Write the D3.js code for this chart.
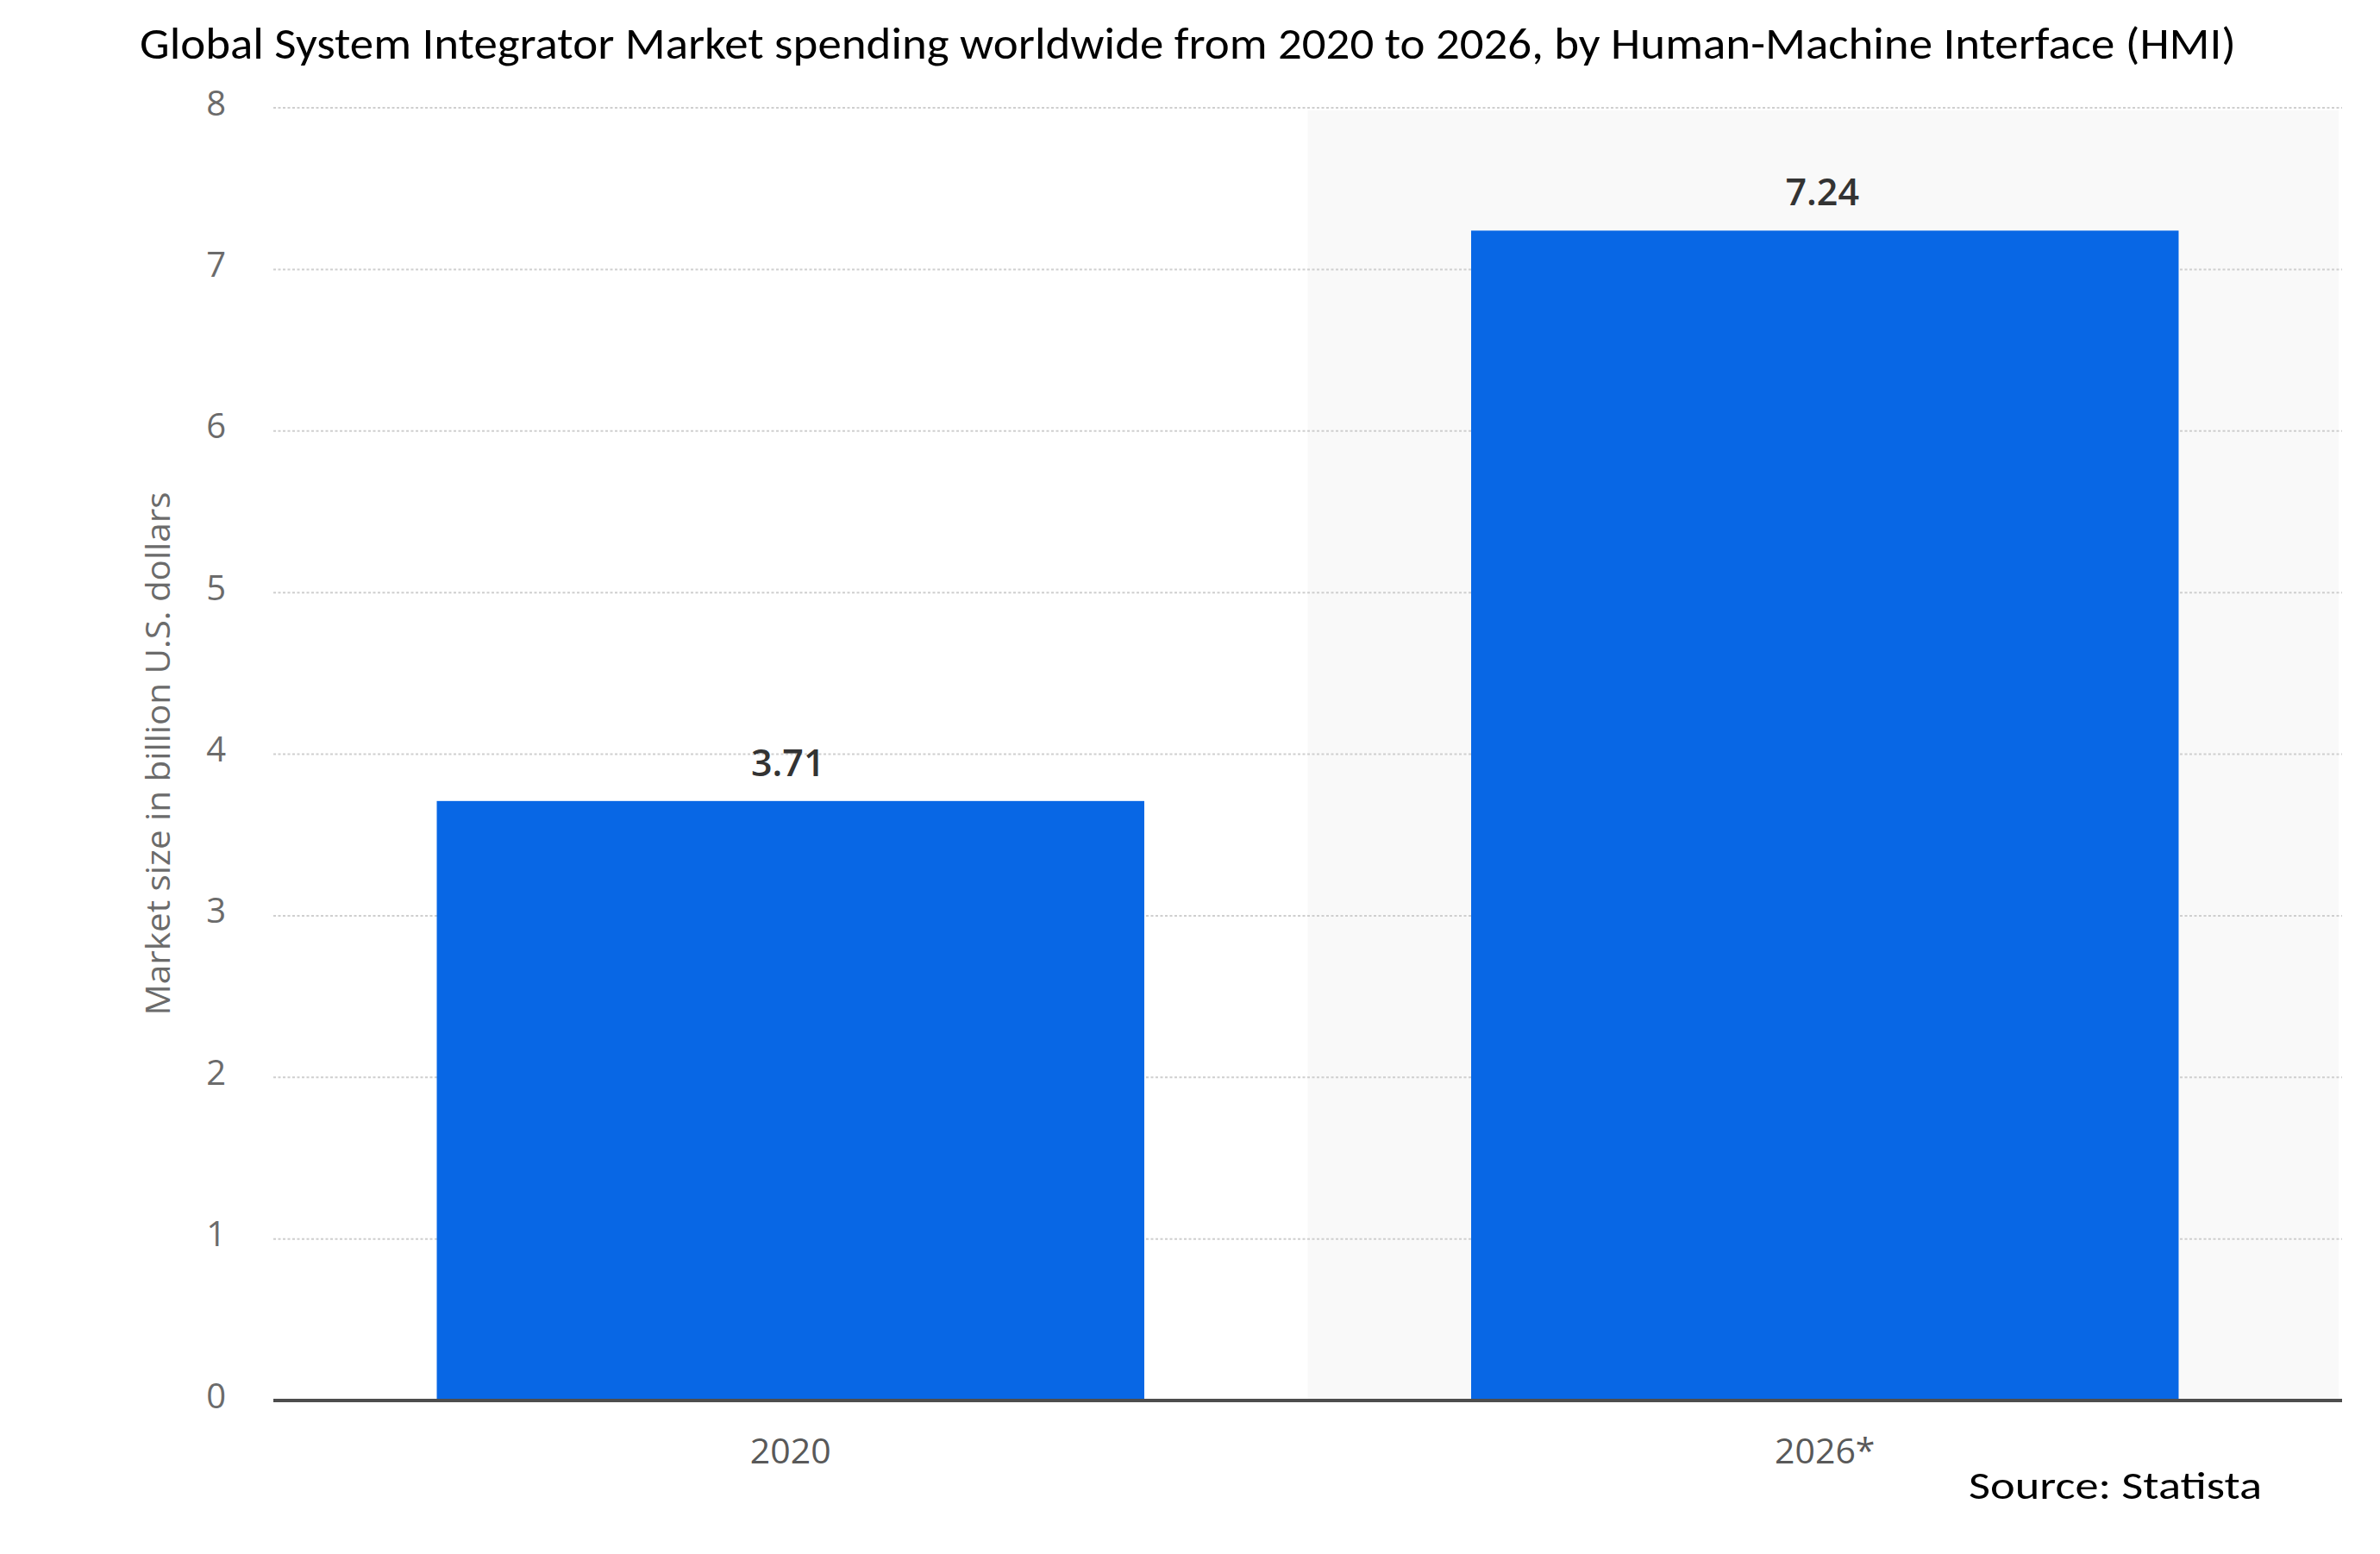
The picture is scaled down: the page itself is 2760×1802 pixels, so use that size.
<!DOCTYPE html>
<html>
<head>
<meta charset="utf-8">
<script src="https://cdn.jsdelivr.net/npm/d3@7"></script>
<style>
  html, body { margin: 0; padding: 0; background: #ffffff; }
  svg { display: block; }
</style>
</head>
<body>
<svg id="chart" width="2760" height="1802"></svg>
<script>
// ---- data ----
const categories = ["2020", "2026*"];
const values = [3.71, 7.24];
const valueLabels = ["3.71", "7.24"];
const yTicks = [0, 1, 2, 3, 4, 5, 6, 7, 8];
const highlighted = ["2026*"];
const titleText = "Global System Integrator Market spending worldwide from 2020 to 2026, by Human-Machine Interface (HMI)";
const yAxisTitle = "Market size in billion U.S. dollars";
const sourceText = "Source: Statista";

// ---- layout ----
const W = 2760, H = 1802;
const plot = { left: 317, right: 2716, top: 125, bottom: 1624 };
const svg = d3.select("#chart");

const x = d3.scaleBand().domain(categories).range([plot.left, plot.right]).padding(0);
const barW = x.bandwidth() * 0.684;
const y = d3.scaleLinear().domain([0, 8]).range([plot.bottom, plot.top]);

// highlighted band (forecast)
svg.append("g").selectAll("rect")
  .data(highlighted)
  .join("rect")
  .attr("x", d => x(d))
  .attr("y", y(8) + 3)
  .attr("width", x.bandwidth() - 4)
  .attr("height", y(0) - y(8) - 3)
  .attr("fill", "#f9f9f9");

// gridlines
svg.append("g").selectAll("line")
  .data(yTicks.filter(t => t > 0))
  .join("line")
  .attr("x1", plot.left).attr("x2", plot.right)
  .attr("y1", d => y(d)).attr("y2", d => y(d))
  .attr("stroke", "#cfcfcf").attr("stroke-width", 2)
  .attr("stroke-dasharray", "3,2.5");

// y axis tick labels via d3 axis
const yAxis = svg.append("g")
  .attr("transform", `translate(${plot.left},0)`)
  .call(d3.axisLeft(y).tickValues(yTicks).tickSize(0).tickPadding(55).tickFormat(d3.format("d")));
yAxis.select(".domain").remove();
yAxis.selectAll("text")
  .attr("font-family", "'Open Sans', 'Liberation Sans', sans-serif")
  .attr("font-size", 40)
  .attr("fill", "#6b6b6b")
  .attr("dy", "0.2em");

// bars
svg.append("g").selectAll("rect")
  .data(categories)
  .join("rect")
  .attr("x", (d) => x(d) + (x.bandwidth() - barW) / 2)
  .attr("y", (d, i) => y(values[i]))
  .attr("width", barW)
  .attr("height", (d, i) => y(0) - y(values[i]))
  .attr("fill", "#0867e5");

// value labels
svg.append("g").selectAll("text")
  .data(categories)
  .join("text")
  .attr("x", d => x(d) + x.bandwidth() / 2 - 3)
  .attr("y", (d, i) => y(values[i]) - 29)
  .attr("text-anchor", "middle")
  .attr("font-family", "'Open Sans', 'Liberation Sans', sans-serif")
  .attr("font-weight", 600)
  .attr("font-size", 43)
  .attr("fill", "#333333")
  .text((d, i) => valueLabels[i]);

// x axis line
svg.append("line")
  .attr("x1", plot.left).attr("x2", plot.right)
  .attr("y1", y(0)).attr("y2", y(0))
  .attr("stroke", "#4d4d4d").attr("stroke-width", 4);

// x axis labels via d3 axis
const xAxis = svg.append("g")
  .attr("transform", `translate(0,${y(0)})`)
  .call(d3.axisBottom(x).tickSize(0).tickPadding(44));
xAxis.select(".domain").remove();
xAxis.selectAll("text")
  .attr("font-family", "'Open Sans', 'Liberation Sans', sans-serif")
  .attr("font-size", 41)
  .attr("fill", "#595959");

// y axis title
svg.append("text")
  .attr("transform", `translate(197,874) rotate(-90)`)
  .attr("text-anchor", "middle")
  .attr("font-family", "'Open Sans', 'Liberation Sans', sans-serif")
  .attr("font-size", 39)
  .attr("fill", "#6b6b6b")
  .attr("textLength", 607)
  .attr("lengthAdjust", "spacingAndGlyphs")
  .text(yAxisTitle);

// title
svg.append("text")
  .attr("x", 162).attr("y", 68)
  .attr("font-family", "Carlito, Lato, 'Liberation Sans', sans-serif")
  .attr("font-size", 51)
  .attr("fill", "#000000")
  .attr("textLength", 2431)
  .attr("lengthAdjust", "spacingAndGlyphs")
  .text(titleText);

// source
svg.append("text")
  .attr("x", 2283).attr("y", 1738)
  .attr("font-family", "Carlito, Lato, 'Liberation Sans', sans-serif")
  .attr("font-size", 46)
  .attr("fill", "#000000")
  .attr("textLength", 340)
  .attr("lengthAdjust", "spacingAndGlyphs")
  .text(sourceText);
</script>
</body>
</html>
